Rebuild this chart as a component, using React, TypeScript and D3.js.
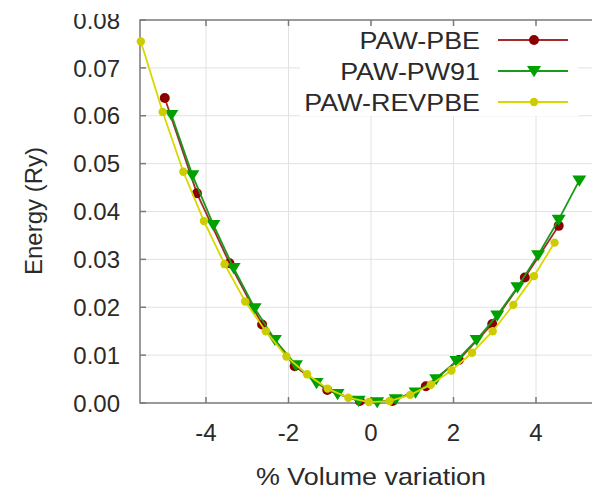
import React from "react";
import * as d3 from "d3";

// % volume variation / energy (Ry)
const pbeX = [-5.0, -4.22, -3.43, -2.64, -1.85, -1.06, -0.27, 0.52, 1.33, 2.13, 2.94, 3.73, 4.55];
const pbeY = [0.0637, 0.0438, 0.0292, 0.0164, 0.0077, 0.0027, 0.0004, 0.0004, 0.0035, 0.009, 0.0165, 0.0262, 0.037];

const pw91X = [-4.84, -4.33, -3.82, -3.33, -2.82, -2.33, -1.82, -1.32, -0.81, -0.3, 0.15, 0.6, 1.08, 1.58, 2.07, 2.56, 3.06, 3.55, 4.05, 4.55, 5.05];
const pw91Y = [0.0602, 0.0476, 0.0372, 0.0282, 0.0198, 0.0132, 0.0079, 0.0042, 0.0019, 0.0005, 0.0002, 0.0008, 0.0022, 0.005, 0.0088, 0.0132, 0.0183, 0.0242, 0.0309, 0.0383, 0.0465];

const revX = [-5.58, -5.05, -4.55, -4.05, -3.55, -3.05, -2.55, -2.05, -1.55, -1.05, -0.55, -0.05, 0.45, 0.95, 1.45, 1.95, 2.45, 2.95, 3.45, 3.95, 4.45];
const revY = [0.0755, 0.0608, 0.0483, 0.038, 0.029, 0.0212, 0.015, 0.0097, 0.006, 0.003, 0.0011, 0.0002, 0.0004, 0.0017, 0.0038, 0.0068, 0.0105, 0.015, 0.0205, 0.0265, 0.0335];

const xTicks = [-4, -2, 0, 2, 4];
const yTicks = [0, 0.01, 0.02, 0.03, 0.04, 0.05, 0.06, 0.07, 0.08];

const series = [
  { name: "PAW-PBE", xs: pbeX, ys: pbeY, line: "#a52a2a", mark: "#8b0000", shape: "circle" },
  { name: "PAW-PW91", xs: pw91X, ys: pw91Y, line: "#1a9a1a", mark: "#00a000", shape: "tri" },
  { name: "PAW-REVPBE", xs: revX, ys: revY, line: "#d8d800", mark: "#cccc00", shape: "dot" },
];

const font = "'Liberation Sans', Arial, Helvetica, sans-serif";
const stretch = 1.12; // the reference's text is a little wider than Arial

function Marker({ shape, x, y, color }: { shape: string; x: number; y: number; color: string }) {
  if (shape === "tri") {
    const s = 7;
    return <path d={`M${x - s},${y - s * 0.7}L${x + s},${y - s * 0.7}L${x},${y + s * 0.9}Z`} fill={color} />;
  }
  return <circle cx={x} cy={y} r={shape === "circle" ? 5 : 4.2} fill={color} />;
}

export default function App() {
  const W = 592;
  const H = 489;
  const x = d3.scaleLinear().domain([-5.6, 5.6]).range([140, 602]);
  const y = d3.scaleLinear().domain([0, 0.08]).range([403, 20]);

  const lineGen = d3
    .line<[number, number]>()
    .x((d) => x(d[0]))
    .y((d) => y(d[1]));

  const left = x(-5.6);
  const bottom = y(0);
  const top = y(0.08);

  return (
    <svg width={W} height={H} style={{ position: "absolute", left: 0, top: 0, background: "#fff" }} fontFamily={font}>
      {/* grid */}
      <g stroke="#e2e2e2" strokeWidth={1}>
        {xTicks.map((t) => (
          <line key={"gx" + t} x1={x(t)} x2={x(t)} y1={top} y2={bottom} />
        ))}
        {yTicks.slice(1, -1).map((t) => (
          <line key={"gy" + t} x1={left} x2={W} y1={y(t)} y2={y(t)} />
        ))}
      </g>

      {/* legend backdrop */}
      <rect x={300} y={24} width={278} height={92} fill="#fff" />

      {/* border + ticks */}
      <g stroke="#7a7a7a" strokeWidth={1.5} fill="none">
        <path d={`M${W},${top}H${left}V${bottom}H${W}`} />
        {xTicks.map((t) => (
          <g key={"tx" + t}>
            <line x1={x(t)} x2={x(t)} y1={bottom} y2={bottom - 6} />
            <line x1={x(t)} x2={x(t)} y1={top} y2={top + 6} />
          </g>
        ))}
        {yTicks.map((t) => (
          <line key={"ty" + t} x1={left} x2={left + 6} y1={y(t)} y2={y(t)} />
        ))}
      </g>

      {/* tick labels */}
      <g fontSize={24} fill="#2a2a2a">
        {yTicks.map((t) => (
          <text key={"ly" + t} x={120} y={y(t)} dy="0.36em" textAnchor="end">
            {d3.format(".2f")(t)}
          </text>
        ))}
        {xTicks.map((t) => (
          <text key={"lx" + t} x={x(t)} y={441} textAnchor="middle">
            {t}
          </text>
        ))}
        <text transform={`translate(${x(0)},485) scale(${stretch},1)`} textAnchor="middle">
          % Volume variation
        </text>
        <text transform="translate(42,211) rotate(-90)" textAnchor="middle">Energy (Ry)</text>
      </g>

      {/* data */}
      {series.map((s) => {
        const pts = s.xs.map((v, i) => [v, s.ys[i]] as [number, number]);
        return (
          <g key={s.name}>
            <path d={lineGen(pts) || ""} fill="none" stroke={s.line} strokeWidth={1.8} />
            {pts.map((p, i) => (
              <Marker key={i} shape={s.shape} x={x(p[0])} y={y(p[1])} color={s.mark} />
            ))}
          </g>
        );
      })}

      {/* legend */}
      {series.map((s, i) => {
        const ly = 40 + i * 31;
        return (
          <g key={"lg" + s.name}>
            <text
              transform={`translate(480,${ly}) scale(${stretch},1)`}
              dy="0.36em"
              textAnchor="end"
              fontSize={24}
              fill="#2a2a2a"
            >
              {s.name}
            </text>
            <line x1={498} x2={568} y1={ly} y2={ly} stroke={s.line} strokeWidth={1.8} />
            <Marker shape={s.shape} x={534} y={ly} color={s.mark} />
          </g>
        );
      })}

      {/* top of the picture is cut off in the reference */}
      <rect x={0} y={0} width={W} height={14} fill="#fff" />
    </svg>
  );
}
